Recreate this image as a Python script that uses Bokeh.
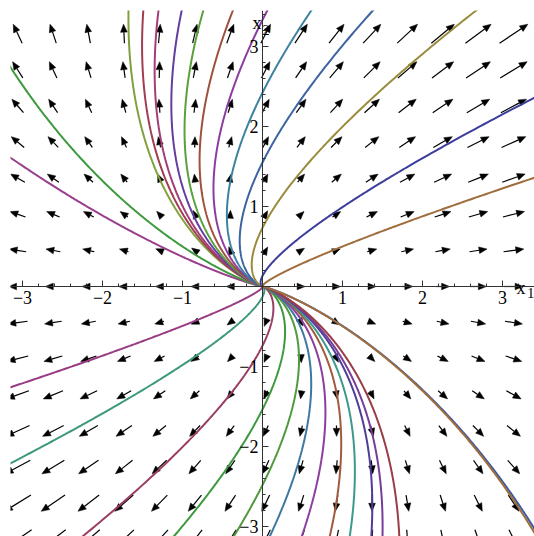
import numpy as np
from bokeh.plotting import figure
from bokeh.models import Range1d, FixedTicker, Label
from bokeh.embed import file_html
from bokeh.resources import INLINE

# Linear system  x1' = x1 + 0.5 x2,  x2' = x2  (degenerate source at the origin)
A = np.array([[1.0, 0.5],
              [0.0, 1.0]])

# Sample points of the direction field
grid_x = np.linspace(-3.06, 3.14, 15)
grid_y = np.linspace(-3.16, 3.16, 15)

# One point on each plotted solution curve, and the curve's colour
curve_x = [-3.15, -3.15, -1.675, -1.49, -1.30, -1.01, -0.74, -0.37, 0.06, 0.61,
           1.38, 2.67, 3.40, 3.40,
           -3.15, -3.15, -2.25, -1.11, -0.36, 0.09, 0.49, 0.84, 1.09, 1.36,
           1.50, 1.71, 3.40, 3.40]
curve_y = [1.61, 2.74, 3.45, 3.45, 3.45, 3.45, 3.45, 3.45, 3.45, 3.45,
           3.45, 3.45, 2.36, 1.36,
           -1.26, -2.21, -3.125, -3.125, -3.125, -3.125, -3.125, -3.125, -3.125, -3.125,
           -3.125, -3.125, -3.03, -3.08]
curve_colors = ["#993d8c", "#3d993d", "#7fa03d", "#a03d50", "#a33d78", "#643da0",
                "#5aa03d", "#a0503d", "#8c3da0", "#3d82a0", "#3d64a0", "#9a8c3d",
                "#3d3d9c", "#a06e3d",
                "#993d82", "#3d9978", "#993d64", "#3d993d", "#50993d", "#3d78a0",
                "#8c3da0", "#a05a3d", "#3d998c", "#503d99", "#783d99", "#993d46",
                "#3d5aa0", "#a06e3d"]

X_RANGE = (-3.15, 3.40)
Y_RANGE = (-3.125, 3.45)


def field(x, y):
    return A[0, 0] * x + A[0, 1] * y, A[1, 0] * x + A[1, 1] * y


def rk4_path(x0, y0, dt, steps):
    s = np.array([x0, y0], dtype=float)
    out = [s.copy()]
    for _ in range(steps):
        k1 = A @ s
        k2 = A @ (s + 0.5 * dt * k1)
        k3 = A @ (s + 0.5 * dt * k2)
        k4 = A @ (s + dt * k3)
        s = s + dt / 6.0 * (k1 + 2 * k2 + 2 * k3 + k4)
        out.append(s.copy())
    return np.array(out)


p = figure(width=534, height=536, x_range=Range1d(*X_RANGE), y_range=Range1d(*Y_RANGE),
           output_backend="svg", toolbar_location=None,
           min_border_left=10, min_border_top=10, min_border_right=0, min_border_bottom=0)
p.outline_line_color = None
p.grid.visible = False
p.background_fill_color = "white"
p.border_fill_color = "white"

# ---- direction field: arrows centred on the grid points, length ~ |f| ----
scale = 0.075
head_len, head_half = 0.10, 0.042
sx0, sy0, sx1, sy1 = [], [], [], []
heads_x, heads_y = [], []
for gx in grid_x:
    for gy in grid_y:
        fx, fy = field(gx, gy)
        mag = np.hypot(fx, fy)
        if mag < 0.1:
            continue
        ux, uy = fx / mag, fy / mag
        L = max(mag * scale, head_len)
        tipx, tipy = gx + ux * L / 2, gy + uy * L / 2
        tailx, taily = gx - ux * L / 2, gy - uy * L / 2
        basex, basey = tipx - ux * head_len, tipy - uy * head_len
        if L > head_len:
            sx0.append(tailx); sy0.append(taily); sx1.append(basex); sy1.append(basey)
        heads_x.append([tipx, basex - uy * head_half, basex + uy * head_half])
        heads_y.append([tipy, basey + ux * head_half, basey - ux * head_half])

p.segment(sx0, sy0, sx1, sy1, line_color="black", line_width=1.2)
p.patches(heads_x, heads_y, fill_color="black", line_color="black", line_width=0.5)

# ---- solution curves through the chosen points ----
for cx, cy, col in zip(curve_x, curve_y, curve_colors):
    back = rk4_path(cx, cy, -0.01, 1600)[::-1]
    fwd = rk4_path(cx, cy, 0.01, 300)[1:]
    path = np.vstack([back, fwd])
    p.line(path[:, 0], path[:, 1], line_color=col, line_width=2.0)

# ---- axes through the origin ----
major = [-3, -2, -1, 1, 2, 3]
minor = [round(v, 1) for v in np.arange(-3.2, 3.41, 0.2) if abs(round(v, 1)) > 1e-9]
labels = {-3: "\u22123", -2: "\u22122", -1: "\u22121", 1: "1", 2: "2", 3: "3"}
for ax in (p.xaxis, p.yaxis):
    ax.fixed_location = 0
    ax.ticker = FixedTicker(ticks=major, minor_ticks=minor)
    ax.major_label_overrides = labels
    ax.major_tick_in = 6
    ax.major_tick_out = 0
    ax.minor_tick_in = 3
    ax.minor_tick_out = 0
    ax.axis_line_color = "#333333"
    ax.major_tick_line_color = "#333333"
    ax.minor_tick_line_color = "#333333"
    ax.major_label_text_font = "Liberation Serif"
    ax.major_label_text_font_size = "18px"
    ax.major_label_text_color = "black"
    ax.major_label_standoff = 4

# axis names x1 (right end) and x2 (top end)
for txt, x, y, size in [("x", 3.175, -0.0125, "18px"), ("1", 3.31, -0.075, "14px"),
                         ("x", -0.125, 3.29, "18px"), ("2", 0.0, 3.21, "14px")]:
    p.add_layout(Label(x=x, y=y, text=txt, text_font="Liberation Serif",
                       text_font_size=size, text_baseline="alphabetic",
                       text_align="left", text_color="black"))

open("out.html", "w").write(file_html(p, INLINE))
